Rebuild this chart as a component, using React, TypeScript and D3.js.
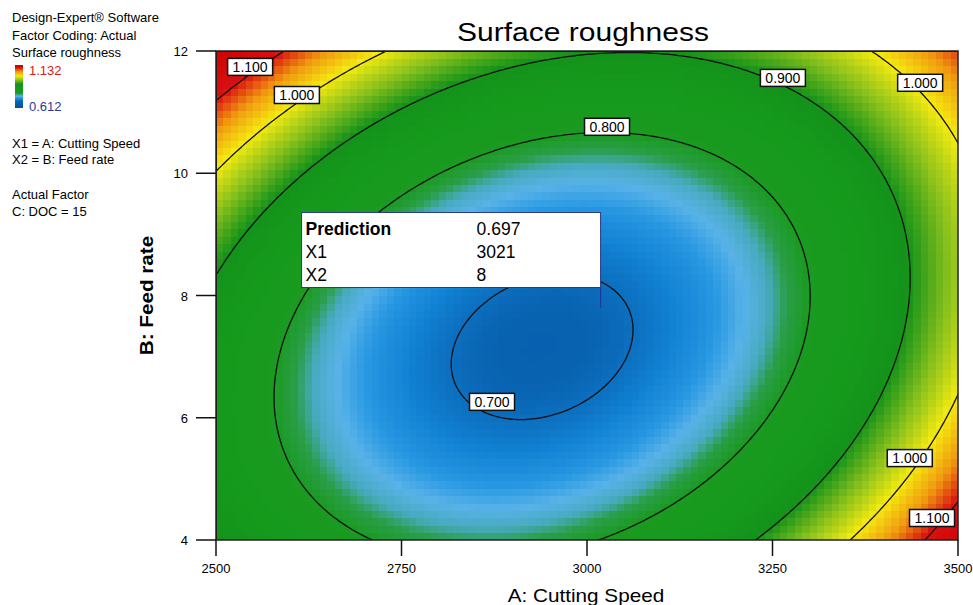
import React, { useMemo } from "react";
import * as d3 from "d3";

// Quadratic response-surface model (coded factors A, B in [-1, 1]) for Surface roughness
const modelTerms = ["Intercept", "A", "B", "AB", "A^2", "B^2"];
const modelCoefficients = [0.69487, 0.03872, 0.05303, -0.08855, 0.22902, 0.15553];

const xTicks = [2500, 2750, 3000, 3250, 3500];
const yTicks = [4, 6, 8, 10, 12];
const contourLevels = [0.7, 0.8, 0.9, 1.0, 1.1];

// contour label placements (data coordinates)
const labelLevel = [1.1, 1.0, 0.9, 1.0, 0.8, 0.7, 1.0, 1.1];
const labelX1 = [2546, 2609, 3264, 3449, 3027, 2872, 3435, 3465];
const labelX2 = [11.74, 11.28, 11.56, 11.48, 10.76, 6.26, 5.34, 4.36];

// prediction flag
const predictionLabels = ["Prediction", "X1", "X2"];
const predictionValues = ["0.697", "3021", "8"];
const predX1 = 3021;
const predX2 = 8;

const colorStops = [0.6, 0.69, 0.715, 0.735, 0.752, 0.768, 0.782, 0.8, 0.85, 0.9, 0.95, 1.0, 1.05, 1.1, 1.2];
const colorValues = ["#0850a0", "#0862b0", "#1282d4", "#2898e2", "#58b2e8", "#48aac0", "#2a9e48", "#1a9a20", "#159a1c", "#14921a", "#8cc21c", "#f4ea10", "#f09a10", "#d81010", "#c80000"];

const W = 973, H = 605;
const L = 216, R = 958, T = 51, B = 540;

function model(X1: number, X2: number) {
  const a = (X1 - 3000) / 500, b = (X2 - 8) / 4;
  const [c0, c1, c2, c12, c11, c22] = modelCoefficients;
  return c0 + c1 * a + c2 * b + c12 * a * b + c11 * a * a + c22 * b * b;
}

export default function App() {
  const x = d3.scaleLinear().domain([2500, 3500]).range([L, R]);
  const y = d3.scaleLinear().domain([4, 12]).range([B, T]);
  const color = d3.scaleLinear<string>().domain(colorStops).range(colorValues).clamp(true);

  const cells = useMemo(() => {
    const nx = 100, ny = 66;
    const out: { x: number; y: number; w: number; h: number; c: string }[] = [];
    const dx = 1000 / nx, dy = 8 / ny;
    for (let i = 0; i < nx; i++) for (let j = 0; j < ny; j++) {
      const X1 = 2500 + (i + 0.5) * dx, X2 = 4 + (j + 0.5) * dy;
      const x0 = x(2500 + i * dx), x1 = x(2500 + (i + 1) * dx);
      const y0 = y(4 + (j + 1) * dy), y1 = y(4 + j * dy);
      out.push({ x: x0, y: y0, w: x1 - x0 + 0.6, h: y1 - y0 + 0.6, c: color(model(X1, X2)) });
    }
    return out;
  }, []);

  const contourPaths = useMemo(() => {
    const n = 300, m = 240;
    const vals = new Array(n * m);
    for (let j = 0; j < m; j++) for (let i = 0; i < n; i++) {
      const X1 = 2500 + (i / (n - 1)) * 1000;
      const X2 = 12 - (j / (m - 1)) * 8;
      vals[j * n + i] = model(X1, X2);
    }
    const cs = d3.contours().size([n, m]).thresholds(contourLevels)(vals);
    const proj = d3.geoTransform({
      point(px: number, py: number) {
        (this as any).stream.point(x(2500 + (px / (n - 1)) * 1000), y(12 - (py / (m - 1)) * 8));
      },
    });
    const path = d3.geoPath(proj);
    return cs.map((c) => path(c as any) || "");
  }, []);

  const font = "'Liberation Sans', Arial, sans-serif";
  const px = x(predX1), py = y(predX2);

  return (
    <svg width={W} height={H} style={{ position: "absolute", left: 0, top: 0, background: "#fff" }} fontFamily={font}>
      <defs>
        <clipPath id="plotclip"><rect x={L} y={T} width={R - L} height={B - T} /></clipPath>
        <linearGradient id="legend" x1="0" y1="1" x2="0" y2="0">
          {colorStops.map((s, i) => (
            <stop key={i} offset={Math.max(0, Math.min(1, (s - 0.612) / (1.132 - 0.612)))} stopColor={colorValues[i]} />
          ))}
        </linearGradient>
      </defs>
      <text transform="translate(583,41) scale(1.2,1)" textAnchor="middle" fontSize={25}>Surface roughness</text>
      <g clipPath="url(#plotclip)">
        {cells.map((c, i) => (
          <rect key={i} x={c.x} y={c.y} width={c.w} height={c.h} fill={c.c} shapeRendering="crispEdges" />
        ))}
        {contourPaths.map((d, i) => (
          <path key={i} d={d} fill="none" stroke="#111" strokeWidth={1.3} />
        ))}
      </g>
      <rect x={L} y={T} width={R - L} height={B - T} fill="none" stroke="#222" strokeWidth={1.5} />
      {labelLevel.map((lv, i) => {
        const cx = x(labelX1[i]), cy = y(labelX2[i]);
        return (
          <g key={i}>
            <rect x={cx - 22.5} y={cy - 8.5} width={45} height={17} fill="#fff" stroke="#111" strokeWidth={1.5} />
            <text x={cx} y={cy + 5} textAnchor="middle" fontSize={14}>{lv.toFixed(3)}</text>
          </g>
        );
      })}
      {/* prediction flag */}
      <line x1={px - 2} y1={py - 8} x2={px - 2} y2={y(predX2 - 0.2)} stroke="#1a3a9a" strokeWidth={1.2} />
      <rect x={px - 301} y={py - 83} width={299} height={75} fill="#fff" stroke="#2a3a8a" strokeWidth={1} />
      {predictionLabels.map((lab, i) => (
        <g key={lab}>
          <text x={px - 297} y={py - 61 + i * 23} fontSize={17.5} fontWeight={i === 0 ? "bold" : "normal"}>{lab}</text>
          <text x={px - 126} y={py - 61 + i * 23} fontSize={17.5}>{predictionValues[i]}</text>
        </g>
      ))}
      {/* axes */}
      {yTicks.map((t) => (
        <g key={t}>
          <line x1={L - 20} x2={L} y1={y(t)} y2={y(t)} stroke="#111" strokeWidth={1.5} />
          <text x={L - 28} y={y(t) + 5} textAnchor="end" fontSize={13}>{t}</text>
        </g>
      ))}
      {xTicks.map((t) => (
        <g key={t}>
          <line x1={x(t)} x2={x(t)} y1={B} y2={B + 16} stroke="#111" strokeWidth={1.5} />
          <text x={x(t)} y={B + 33} textAnchor="middle" fontSize={13}>{t}</text>
        </g>
      ))}
      <text transform="translate(586,602) scale(1.15,1)" textAnchor="middle" fontSize={18}>A: Cutting Speed</text>
      <text transform={`translate(153,${(T + B) / 2}) rotate(-90) scale(1.15,1)`} textAnchor="middle" fontSize={18} fontWeight="bold">B: Feed rate</text>
      {/* legend */}
      <g fontSize={13}>
        <text x={12} y={22}>Design-Expert® Software</text>
        <text x={12} y={40}>Factor Coding: Actual</text>
        <text x={12} y={57}>Surface roughness</text>
        <rect x={15} y={65} width={8} height={43} fill="url(#legend)" />
        <text x={29} y={75} fill="#d42020">1.132</text>
        <text x={29} y={111} fill="#2a3a9a">0.612</text>
        <text x={12} y={148}>X1 = A: Cutting Speed</text>
        <text x={12} y={164}>X2 = B: Feed rate</text>
        <text x={12} y={199}>Actual Factor</text>
        <text x={12} y={216}>C: DOC = 15</text>
      </g>
    </svg>
  );
}
